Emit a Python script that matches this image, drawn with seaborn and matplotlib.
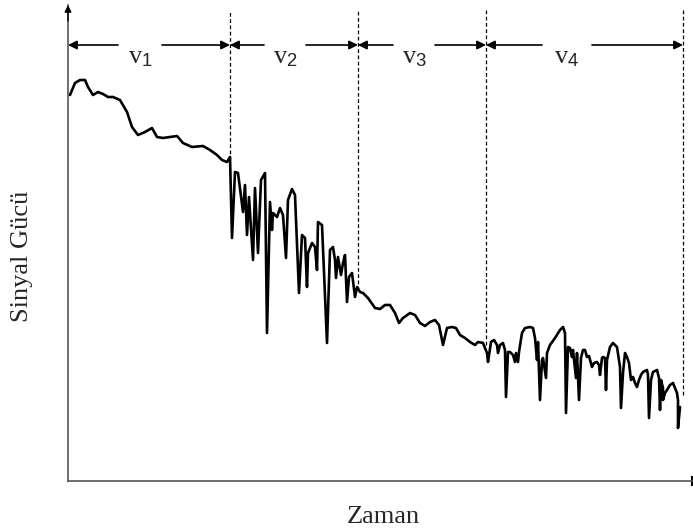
import numpy as np
import pandas as pd
import matplotlib
matplotlib.use("Agg")
import matplotlib.pyplot as plt
import seaborn as sns

# ---- data (time, signal power) per speed interval ----
time_v1 = [2, 7, 12, 17, 20, 25, 30, 35, 40, 45, 52, 59, 64, 70, 77, 84, 89, 95, 102, 109,
           115, 124, 135, 142, 149, 154, 159, 162]
power_v1 = [386, 398, 401, 401, 394, 386, 389, 387, 384, 384, 381, 369, 354, 346, 349, 353, 344,
            343, 344, 345, 338, 334, 335, 331, 326, 321, 319, 324]

time_v2 = [164, 167, 170, 175, 177, 179, 181, 185, 187, 190, 193, 197, 199, 202, 204, 205, 209,
           212, 215, 218, 220, 224, 227, 231, 234, 237, 239, 240, 244, 247, 249, 250, 254, 259,
           262, 265, 267, 268, 270, 273, 275, 277, 279, 281, 284, 287, 289]
power_v2 = [243, 309, 308, 269, 296, 246, 284, 221, 293, 228, 301, 308, 148, 279, 251, 268, 264,
            273, 266, 223, 281, 292, 286, 188, 246, 243, 194, 228, 238, 234, 211, 259, 256, 138,
            231, 234, 221, 203, 224, 206, 218, 226, 179, 204, 208, 184, 194]

time_v3 = [292, 295, 300, 307, 312, 317, 322, 327, 331, 335, 342, 347, 352, 357, 362, 367, 371,
           375, 379, 384, 388, 392, 397, 402, 407, 410, 415]
power_v3 = [189, 188, 183, 173, 172, 176, 176, 168, 158, 163, 168, 166, 158, 155, 159, 161, 156,
            136, 153, 154, 153, 146, 143, 139, 136, 139, 138]

time_v4 = [419, 420, 423, 426, 429, 430, 432, 435, 437, 438, 440, 442, 445, 447, 448, 450, 451,
           454, 457, 462, 465, 467, 469, 470, 472, 474, 475, 478, 479, 482, 487, 492, 495, 497,
           498, 500, 502, 504, 505, 508, 509, 511, 513, 515, 517, 519, 521, 524, 526, 529, 531,
           532, 534, 535, 537, 538, 539, 542, 545, 549, 552, 553, 555, 557, 559, 561, 563, 565,
           567, 569, 571, 573, 575, 579, 580, 581, 583, 585, 589, 591, 592, 593, 595, 595, 597,
           599, 602, 605, 607, 609, 610, 610, 612]
power_v4 = [128, 119, 139, 141, 136, 128, 136, 138, 131, 84, 129, 129, 126, 119, 128, 119, 129,
            148, 153, 154, 153, 143, 121, 139, 81, 121, 123, 103, 128, 136, 143, 151, 154, 148,
            68, 134, 133, 124, 131, 103, 128, 81, 123, 131, 131, 124, 125, 114, 118, 119, 116,
            106, 123, 124, 123, 91, 121, 134, 138, 134, 114, 73, 108, 128, 124, 118, 101, 104,
            98, 94, 101, 106, 109, 111, 106, 63, 101, 109, 111, 103, 71, 101, 93, 81, 88,
            91, 96, 98, 93, 88, 81, 53, 74]

# interval boundaries (time) and labels
boundaries = [0, 162, 290, 418, 615]
dash_bottom = [321, 191, 136, 86]
interval_labels = [r"$\mathrm{v}_{\mathsf{1}}$", r"$\mathrm{v}_{\mathsf{2}}$",
                   r"$\mathrm{v}_{\mathsf{3}}$", r"$\mathrm{v}_{\mathsf{4}}$"]
label_centers = [72, 217, 346, 499]
label_gap_halfwidth = [22, 21, 21, 25]

df = pd.DataFrame({
    "Zaman": time_v1 + time_v2 + time_v3 + time_v4,
    "Sinyal Gücü": power_v1 + power_v2 + power_v3 + power_v4,
})

sns.set_style("white")
plt.rcParams["font.family"] = ["Liberation Serif", "DejaVu Serif"]
plt.rcParams["mathtext.fontset"] = "custom"
plt.rcParams["mathtext.rm"] = "Liberation Serif"
plt.rcParams["mathtext.it"] = "Liberation Serif:italic"
plt.rcParams["mathtext.sf"] = "Liberation Sans"

fig = plt.figure(figsize=(6.93, 5.30), dpi=100)
ax = fig.add_axes([68 / 693, 49 / 530, 624 / 693, 476 / 530])

sns.lineplot(data=df, x="Zaman", y="Sinyal Gücü", sort=False, estimator=None,
             color="black", linewidth=1.9, ax=ax)
for line in ax.get_lines():
    line.set_solid_joinstyle("round")
    line.set_solid_capstyle("round")

ax.set_xlim(0, 624)
ax.set_ylim(0, 476)
ax.set_xticks([])
ax.set_yticks([])
ax.set_xlabel("")
ax.set_ylabel("")
for s in ["top", "right"]:
    ax.spines[s].set_visible(False)
for s in ["left", "bottom"]:
    ax.spines[s].set_color("#555555")
    ax.spines[s].set_linewidth(1.2)

# axis arrow heads
ax.annotate("", xy=(0, 476), xytext=(0, 460),
            arrowprops=dict(arrowstyle="-|>", color="black", lw=1.0,
                            mutation_scale=10, shrinkA=0, shrinkB=0),
            annotation_clip=False)
ax.plot([624], [0], marker="|", color="black", markersize=7, mew=1.5, clip_on=False)

# dashed boundaries
for bx, by in zip(boundaries[1:], dash_bottom):
    ax.plot([bx, bx], [by, 471], linestyle=(0, (3, 2)), color="black", linewidth=0.9)

# interval arrows and labels
arrow_y = 436
for i, lab in enumerate(interval_labels):
    a, b = boundaries[i], boundaries[i + 1]
    c = label_centers[i]
    g = label_gap_halfwidth[i]
    for start, end in [(c - g, a), (c + g, b)]:
        ax.annotate("", xy=(end, arrow_y), xytext=(start, arrow_y),
                    arrowprops=dict(arrowstyle="-|>", color="black", lw=1.2,
                                    mutation_scale=13, shrinkA=0, shrinkB=0))
    ax.text(c, arrow_y - 13, lab, ha="center", va="center", fontsize=19)

fig.text(22 / 693, 1 - 256 / 530, "Sinyal Gücü", rotation=90, ha="center", va="center",
         fontsize=19)
fig.text(383 / 693, 1 - 523 / 530, "Zaman", ha="center", va="baseline", fontsize=19)

fig.savefig("out.png", dpi=100)
